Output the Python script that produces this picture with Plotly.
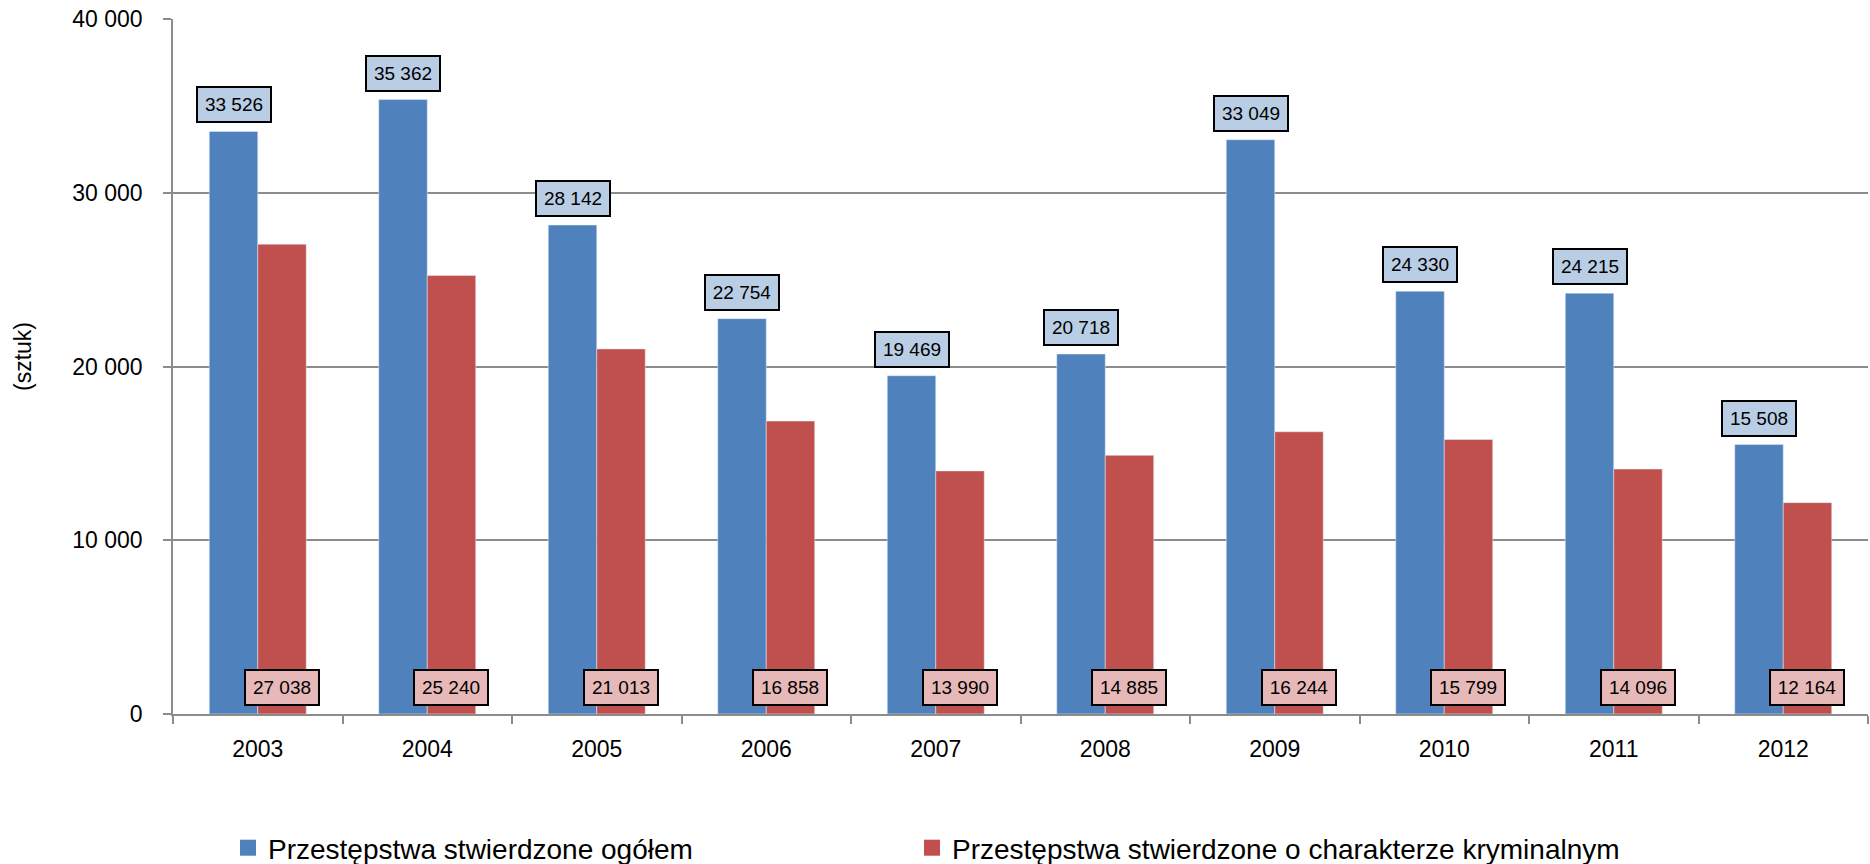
import plotly.graph_objects as go

years = ["2003", "2004", "2005", "2006", "2007", "2008", "2009", "2010", "2011", "2012"]
ogolem = [33526, 35362, 28142, 22754, 19469, 20718, 33049, 24330, 24215, 15508]
kryminalne = [27038, 25240, 21013, 16858, 13990, 14885, 16244, 15799, 14096, 12164]
name_ogolem = "Przestępstwa stwierdzone ogółem"
name_kryminalne = "Przestępstwa stwierdzone o charakterze kryminalnym"
y_ticks = [0, 10000, 20000, 30000, 40000]
y_tick_labels = ["0", "10 000", "20 000", "30 000", "40 000"]

BLUE = "#4F81BD"
RED = "#C0504D"
BLUE_LBL = "#B9CDE5"
RED_LBL = "#E6B9B8"
FONT = "Liberation Sans, Arial, sans-serif"


def fmt(v):
    return f"{v:,}".replace(",", " ")


fig = go.Figure()
fig.add_trace(go.Bar(x=years, y=ogolem, name=name_ogolem, marker_color=BLUE,
                     showlegend=False))
fig.add_trace(go.Bar(x=years, y=kryminalne, name=name_kryminalne, marker_color=RED,
                     showlegend=False))
# legend entries with larger square swatches, each in its own legend box
for nm, col, lg in [(name_ogolem, BLUE, "legend"), (name_kryminalne, RED, "legend2")]:
    fig.add_trace(go.Scatter(x=[None], y=[None], mode="markers", name=nm,
                             marker=dict(symbol="square", size=18, color=col),
                             showlegend=True, hoverinfo="skip", legend=lg))

L, R, T, B = 173, 2, 19, 150
plot_w = 1870 - L - R
plot_h = 864 - T - B
cat_w = plot_w / len(years)
bargap = 0.428
bar_w = cat_w * (1 - bargap) / 2

annotations = []
for i, v in enumerate(ogolem):
    annotations.append(dict(
        x=i, y=v, xref="x", yref="y", xshift=-bar_w / 2, yshift=8,
        yanchor="bottom", xanchor="center", text=fmt(v), showarrow=False,
        bgcolor=BLUE_LBL, bordercolor="#000000", borderwidth=2, borderpad=4,
        width=64, height=25, font=dict(family=FONT, size=19, color="#000000"),
    ))
for i, v in enumerate(kryminalne):
    annotations.append(dict(
        x=i, y=0, xref="x", yref="y", xshift=bar_w / 2, yshift=8,
        yanchor="bottom", xanchor="center", text=fmt(v), showarrow=False,
        bgcolor=RED_LBL, bordercolor="#000000", borderwidth=2, borderpad=4,
        width=64, height=25, font=dict(family=FONT, size=19, color="#000000"),
    ))
annotations.append(dict(
    x=(23 - L) / plot_w, y=(714 - 357) / plot_h, xref="paper", yref="paper",
    text="(sztuk)", textangle=-90, showarrow=False, xanchor="center",
    yanchor="middle", font=dict(family=FONT, size=23, color="#000000"),
))

legend_common = dict(
    orientation="h", xanchor="left", y=(714 - 848) / plot_h, yanchor="middle",
    font=dict(family=FONT, size=28, color="#000000"),
    bgcolor="rgba(0,0,0,0)", itemsizing="trace",
)

fig.update_layout(
    width=1870, height=864,
    margin=dict(l=L, r=R, t=T, b=B, pad=0, autoexpand=False),
    paper_bgcolor="white", plot_bgcolor="white",
    barmode="group", bargap=bargap, bargroupgap=0,
    font=dict(family=FONT, size=23, color="#000000"),
    showlegend=True,
    legend=dict(x=(228 - L) / plot_w, **legend_common),
    legend2=dict(x=(912 - L) / plot_w, **legend_common),
    annotations=annotations,
)
fig.update_xaxes(
    type="category", range=[-0.5, len(years) - 0.5],
    showline=True, linecolor="#8C8C8C", linewidth=1.5,
    ticks="outside", tickson="boundaries", ticklen=8, tickcolor="#8C8C8C",
    tickwidth=1.5, showgrid=False, ticklabelstandoff=14,
    tickfont=dict(family=FONT, size=23, color="#000000"),
)
fig.update_yaxes(
    range=[0, 40000], tickvals=y_ticks, ticktext=y_tick_labels,
    showline=True, linecolor="#8C8C8C", linewidth=1.5,
    ticks="outside", ticklen=8, tickcolor="#8C8C8C", tickwidth=1.5,
    showgrid=True, gridcolor="#8C8C8C", gridwidth=1.5, zeroline=False,
    ticklabelstandoff=16,
    tickfont=dict(family=FONT, size=23, color="#000000"),
)

fig.write_html("out.html", config={"displayModeBar": False},
               post_script="document.body.style.margin='0';document.body.style.overflow='hidden';")
